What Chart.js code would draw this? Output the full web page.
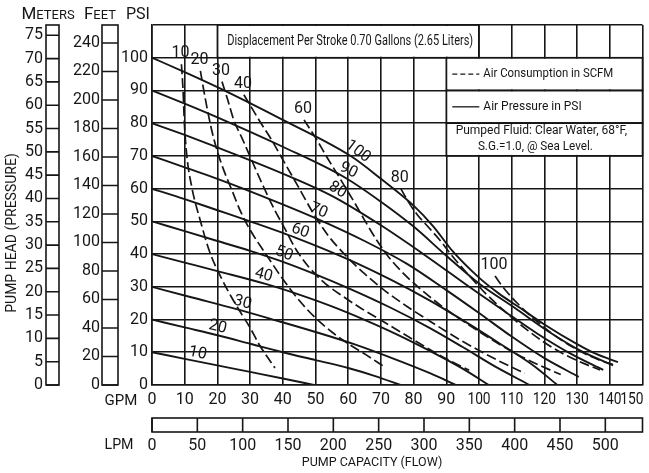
<!DOCTYPE html>
<html><head><meta charset="utf-8">
<script src="https://cdn.jsdelivr.net/npm/chart.js@4.4.1/dist/chart.umd.min.js"></script>
<style>html,body{margin:0;padding:0;background:#fff;}canvas{display:block;}</style>
</head><body>
<canvas id="c" width="649" height="473"></canvas>
<script>
// ---------- tick labels ----------
const gpmTicks   = [0,10,20,30,40,50,60,70,80,90,100,110,120,130,140,150];
const lpmTicks   = [0,50,100,150,200,250,300,350,400,450,500];
const psiTicks   = [0,10,20,30,40,50,60,70,80,90,100];
const feetTicks  = [0,20,40,60,80,100,120,140,160,180,200,220,240];
const meterTicks = [0,5,10,15,20,25,30,35,40,45,50,55,60,65,70,75];

// ---------- air pressure curves (solid), [GPM, PSI head] ----------
const pressureNames = [10,20,30,40,50,60,70,80,90,100];
const psi10  = [[0,10],[10,8.0],[20,6.0],[30,4.0],[40,2.0],[49.5,0]];
const psi20  = [[0,20],[10,17.6],[20,15.2],[30,12.6],[40,10.0],[50,7.6],[60,5.2],[68,2.8],[76,0]];
const psi30  = [[0,30],[12,26.8],[25,23.4],[37,20.0],[50,16.2],[62,12.4],[75,7.6],[85,3.6],[93,0]];
const psi40  = [[0,40],[10,37.4],[20,34.8],[35,30.8],[45,27.6],[55,24.0],[65,19.9],[75,15.4],[85,10.4],[95,5.0],[103,0]];
const psi50  = [[0,50],[10,47.0],[20,44.0],[30,41.0],[39,38.0],[50,33.8],[60,29.6],[73,23.6],[85,17.4],[95,11.6],[105,5.6],[115.5,0]];
const psi60  = [[0,60],[10,56.8],[20,53.4],[30,50.0],[45,44.6],[60,38.4],[73,32.2],[85,25.8],[97,18.6],[108,11.6],[116,6.4],[124,0]];
const psi70  = [[0,70],[10,66.5],[20,63.0],[35,57.2],[50,51.0],[65,44.0],[78,37.0],[90,29.0],[100,22.0],[110,14.8],[120,8.2],[130.5,2.5]];
const psi80  = [[0,80],[10,76.4],[20,72.6],[40,64.6],[55,57.8],[70,48.8],[85,38.6],[97,30.0],[108,22.4],[118,15.6],[128,9.6],[138,4.6]];
const psi90  = [[0,90],[10,86.0],[20,81.8],[40,72.8],[59,63.4],[70,56.0],[80,48.4],[90,39.5],[100,31.0],[111,23.5],[121,16.5],[131,10.5],[141,6.0]];
const psi100 = [[0,100],[10,95.6],[20,91.0],[40,81.0],[61,69.8],[70,63.0],[80,54.8],[86,48.5],[92,40.8],[100,32.8],[106,28.0],[112.5,23.6],[120,18.5],[130,12.5],[136,9.4],[142.5,7.0]];
const pressureSeries = [psi10,psi20,psi30,psi40,psi50,psi60,psi70,psi80,psi90,psi100];
const pressureLabelGpm = [13.5,19.5,27,33.5,39.5,44.5,50,55.5,59,61.5];

// ---------- air consumption curves (dashed), [GPM, PSI head] ----------
const airNames = [10,20,30,40,60,80,100];
const scfm10  = [[9.0,98],[9.5,90],[9.9,80],[10.6,70.5],[12.2,60.3],[14.7,50.5],[17.7,40.5],[21.3,32.5],[24.5,26.5],[27.5,21.5],[30,17.5],[33,12],[37.6,5.2]];
const scfm20  = [[14.8,96],[16.2,88],[18,79],[19.8,72],[22,65.5],[24.4,59.6],[27,53.2],[30,47.4],[34.6,40.3],[40.2,32.1],[45.3,25.5],[50,20.5],[55,16.2],[60,12.6],[65.5,9.2],[71,5.6]];
const scfm30  = [[21.4,92.7],[23.2,87],[25,81],[27.5,75.5],[30,69.8],[34,60.8],[37.5,53.5],[40.5,48],[44,41.5],[48,36],[53,31],[58.5,27],[64,23.4],[69.7,20],[76,16.2],[83,12],[90,8],[97,4.5]];
const scfm40  = [[28.1,88.7],[30,85.5],[33,80.5],[36.5,75],[40.2,68.5],[44.5,61],[49.3,52.5],[54,45.5],[59,39.8],[65,34],[71,29],[78,24],[85,19.5],[93,14.5],[101,10],[108,6.4],[114,3.6]];
const scfm60  = [[46.5,81],[50.4,74.9],[53.5,69.6],[56.5,64.7],[59,60.6],[61.6,56.3],[65,50.4],[68.5,44.6],[72,39.6],[76,35],[82,29.4],[89,23.8],[96.5,18.6],[104,13.8],[112,9.2],[119,5.8],[125,3.2]];
const scfm80  = [[76.1,60],[78.5,55.8],[81,52.2],[84,48.8],[88,44.3],[92,39.2],[97,33.4],[102,28],[108,22.4],[114,17.4],[120,13],[126,9.4],[132,6.6],[137,4.6]];
const scfm100 = [[104.9,33.3],[106.5,31],[108.5,28.5],[111.5,25.2],[114.6,22.2],[118,19.2],[122,16],[126,13.2],[130,10.8],[134,8.8],[138,7.2],[141,6.2]];
const airSeries = [scfm10,scfm20,scfm30,scfm40,scfm60,scfm80,scfm100];

// ---------- texts ----------
const titleText = 'Displacement Per Stroke 0.70 Gallons (2.65 Liters)';
const legendAir = 'Air Consumption in SCFM';
const legendPressure = 'Air Pressure in PSI';
const fluidLine1 = 'Pumped Fluid: Clear Water, 68°F,';
const fluidLine2 = 'S.G.=1.0, @ Sea Level.';

// ---------- axis extents ----------
const GPM_MAX = 150, PSI_MAX = 110, FEET_MAX = 252.6, METER_MAX = 77.2, LPM_MAX = 541;

const INK = '#161616';
const FONT = 'Roboto';

const datasets = [];
pressureSeries.forEach((s,i)=>datasets.push({
  label: pressureNames[i]+' PSI', kind:'pressure', name: pressureNames[i],
  data: s.map(p=>({x:p[0],y:p[1]})), showLine:true, borderColor:INK, borderWidth:1.9,
  pointRadius:0, cubicInterpolationMode:'monotone', fill:false
}));
airSeries.forEach((s,i)=>datasets.push({
  label: airNames[i]+' SCFM', kind:'air', name: airNames[i],
  data: s.map(p=>({x:p[0],y:p[1]})), showLine:true, borderColor:INK, borderWidth:1.7,
  borderDash:[10,4], pointRadius:0, cubicInterpolationMode:'monotone', fill:false
}));

function setTicks(arr){ return s => { s.ticks = arr.map(v=>({value:v})); }; }

function smallCaps(ctx, first, rest, cx, cy, big, small){
  ctx.font = big+'px '+FONT; const w1 = ctx.measureText(first).width;
  ctx.font = small+'px '+FONT; const w2 = ctx.measureText(rest).width;
  let x0 = cx - (w1+w2)/2;
  ctx.textAlign='left'; ctx.textBaseline='alphabetic';
  ctx.font = big+'px '+FONT; ctx.fillText(first, x0, cy);
  ctx.font = small+'px '+FONT; ctx.fillText(rest, x0+w1, cy);
}

const decor = {
  id:'decor',
  beforeDatasetsDraw(chart){
    const {ctx, scales:{x,y}} = chart;
    ctx.save();
    ctx.strokeStyle = INK; ctx.lineWidth = 1.6; ctx.fillStyle = '#fff';
    // title box (20-100 GPM, 100-110 PSI)
    const tl = x.getPixelForValue(20), tr = x.getPixelForValue(100);
    const tt = y.getPixelForValue(110), tb = y.getPixelForValue(100);
    ctx.fillRect(tl+1, tt+1, tr-tl-2, tb-tt-2);
    ctx.strokeRect(tl, tt, tr-tl, tb-tt);
    // legend box rows (90-150 GPM, 70-100 PSI)
    const ll = x.getPixelForValue(90), lr = x.getPixelForValue(150);
    [[90,100],[80,90],[70,80]].forEach(r=>{
      const a = y.getPixelForValue(r[1]), b = y.getPixelForValue(r[0]);
      ctx.fillRect(ll+1, a+1, lr-ll-2, b-a-2);
      ctx.strokeRect(ll, a, lr-ll, b-a);
    });
    ctx.fillStyle = INK; ctx.textBaseline = 'middle';
    ctx.textAlign = 'center'; ctx.font = '15px '+FONT;
    ctx.fillText(titleText, (tl+tr)/2+2, (tt+tb)/2, 246);
    // row 1
    const r1 = y.getPixelForValue(95);
    ctx.setLineDash([5,3]); ctx.lineWidth = 1.3;
    ctx.beginPath(); ctx.moveTo(ll+6, r1); ctx.lineTo(ll+33, r1); ctx.stroke();
    ctx.setLineDash([]);
    ctx.textAlign='left'; ctx.font = '12px '+FONT;
    ctx.fillText(legendAir, ll+37, r1, 130);
    const r2 = y.getPixelForValue(85);
    ctx.beginPath(); ctx.moveTo(ll+6, r2); ctx.lineTo(ll+33, r2); ctx.stroke();
    ctx.fillText(legendPressure, ll+37, r2, 100);
    ctx.textAlign='center';
    ctx.fillText(fluidLine1, (ll+lr)/2-3, y.getPixelForValue(77.5), 178);
    ctx.fillText(fluidLine2, (ll+lr)/2-9, y.getPixelForValue(72.8), 115);
    ctx.restore();
  },
  afterDatasetsDraw(chart){
    const {ctx, scales:{x}} = chart;
    ctx.save(); ctx.fillStyle = INK; ctx.font = '16px '+FONT;
    ctx.textAlign='center'; ctx.textBaseline='middle';
    chart.data.datasets.forEach((ds, i)=>{
      const pts = chart.getDatasetMeta(i).data;
      if (ds.kind === 'air'){
        ctx.fillText(String(ds.name), pts[0].x-1, pts[0].y-11);
      } else {
        const g = pressureLabelGpm[pressureNames.indexOf(ds.name)];
        const px = x.getPixelForValue(g);
        for (let j=0;j<pts.length-1;j++){
          if (pts[j].x <= px && pts[j+1].x >= px){
            const t = (px-pts[j].x)/(pts[j+1].x-pts[j].x);
            const py = pts[j].y + t*(pts[j+1].y-pts[j].y);
            const th = Math.atan2(pts[j+1].y-pts[j].y, pts[j+1].x-pts[j].x);
            const off = 8;
            ctx.save();
            ctx.translate(px + Math.sin(th)*off, py - Math.cos(th)*off);
            ctx.rotate(th);
            ctx.fillText(String(ds.name), 0, 0);
            ctx.restore();
            break;
          }
        }
      }
    });
    ctx.restore();
  },
  afterDraw(chart){
    const {ctx, scales} = chart;
    const {x, x2, y, yFeet, yMeters} = scales;
    ctx.save(); ctx.strokeStyle = INK; ctx.lineWidth = 1.6; ctx.fillStyle = INK;
    function scaleBox(s, l, r, ticks){
      ctx.strokeRect(l, s.top, r-l, s.bottom-s.top);
      ctx.beginPath();
      ticks.forEach(v=>{ const p = s.getPixelForValue(v); ctx.moveTo(l,p); ctx.lineTo(r,p); });
      ctx.stroke();
    }
    scaleBox(yFeet, yFeet.right-16, yFeet.right, feetTicks);
    scaleBox(yMeters, yMeters.right-16, yMeters.right-3, meterTicks);
    // LPM bar
    const bt = x2.top+5, bb = x2.top+19;
    ctx.strokeRect(x2.left, bt, x2.right-x2.left, bb-bt);
    ctx.beginPath();
    lpmTicks.forEach(v=>{ const p = x2.getPixelForValue(v); ctx.moveTo(p,bt); ctx.lineTo(p,bb); });
    ctx.stroke();
    // GPM tick labels (drawn at the scale's tick pixels, last one kept inside)
    ctx.font = '16px '+FONT; ctx.textBaseline='middle';
    gpmTicks.forEach((v,i)=>{
      const s = String(v);
      const w = ctx.measureText(s).width;
      const mw = s.length > 2 ? w*0.86 : w;
      const p = x.getPixelForValue(v);
      if (i === gpmTicks.length-1){ ctx.textAlign='right'; ctx.fillText(s, x.right+1, x.top+15, mw); }
      else { ctx.textAlign='center'; ctx.fillText(s, p, x.top+15, mw); }
    });
    // headers
    smallCaps(ctx, 'M', 'ETERS', yMeters.right-14, 19, 17, 13);
    smallCaps(ctx, 'F', 'EET', yFeet.right-18, 19, 17, 13);
    ctx.font = '16px '+FONT; ctx.textAlign='center'; ctx.textBaseline='alphabetic';
    ctx.fillText('PSI', y.right-14, 19);
    // axis names
    ctx.textBaseline='middle';
    ctx.font = '15px '+FONT;
    ctx.fillText('GPM', x.left-31, 401, 33);
    ctx.fillText('LPM', x.left-33, 445, 29);
    ctx.font = '12.5px '+FONT;
    ctx.fillText('PUMP CAPACITY (FLOW)', x.left+220, 463, 155);
    ctx.save();
    ctx.translate(12.5, 233); ctx.rotate(-Math.PI/2);
    ctx.font = '14px '+FONT;
    ctx.fillText('PUMP HEAD (PRESSURE)', 0, 0, 160);
    ctx.restore();
    ctx.restore();
  }
};

const tickFont = {family:FONT, size:16};
new Chart(document.getElementById('c'), {
  type:'scatter',
  data:{datasets},
  options:{
    responsive:false, animation:false, devicePixelRatio:1, events:[],
    layout:{padding:{left:0, right:6.5, top:25, bottom:0}},
    plugins:{legend:{display:false}, tooltip:{enabled:false}},
    scales:{
      x:{type:'linear', position:'bottom', min:0, max:GPM_MAX, weight:0,
         afterBuildTicks:setTicks(gpmTicks),
         ticks:{display:false, autoSkip:false, maxRotation:0, minRotation:0},
         grid:{color:INK, lineWidth:1.6, drawTicks:false},
         border:{color:INK, width:1.6},
         afterFit:s=>{ s.height=28; s.paddingLeft=0; s.paddingRight=0; }},
      x2:{type:'linear', position:'bottom', min:0, max:LPM_MAX, weight:1,
         afterBuildTicks:setTicks(lpmTicks),
         ticks:{autoSkip:false, maxRotation:0, minRotation:0, padding:23, font:tickFont, color:INK},
         grid:{display:false, drawTicks:false}, border:{display:false},
         afterFit:s=>{ s.height=60; s.paddingLeft=0; s.paddingRight=0; }},
      y:{type:'linear', position:'left', min:0, max:PSI_MAX, weight:0,
         afterBuildTicks:setTicks([...psiTicks, PSI_MAX]),
         ticks:{callback:v=>psiTicks.includes(v)?String(v):'', padding:4, font:tickFont, color:INK},
         grid:{color:INK, lineWidth:1.6, drawTicks:false},
         border:{color:INK, width:1.6},
         afterFit:s=>{ s.width=34; s.paddingTop=0; s.paddingBottom=0; }},
      yFeet:{type:'linear', position:'left', min:0, max:FEET_MAX, weight:1,
         afterBuildTicks:setTicks(feetTicks),
         ticks:{padding:18, font:tickFont, color:INK},
         grid:{display:false, drawTicks:false}, border:{display:false},
         afterFit:s=>{ s.width=56; s.paddingTop=0; s.paddingBottom=0; }},
      yMeters:{type:'linear', position:'left', min:0, max:METER_MAX, weight:2,
         afterBuildTicks:setTicks(meterTicks),
         ticks:{padding:19, font:tickFont, color:INK},
         grid:{display:false, drawTicks:false}, border:{display:false},
         afterFit:s=>{ s.width=62; s.paddingTop=0; s.paddingBottom=0; }}
    }
  },
  plugins:[decor]
});
</script>
</body></html>
